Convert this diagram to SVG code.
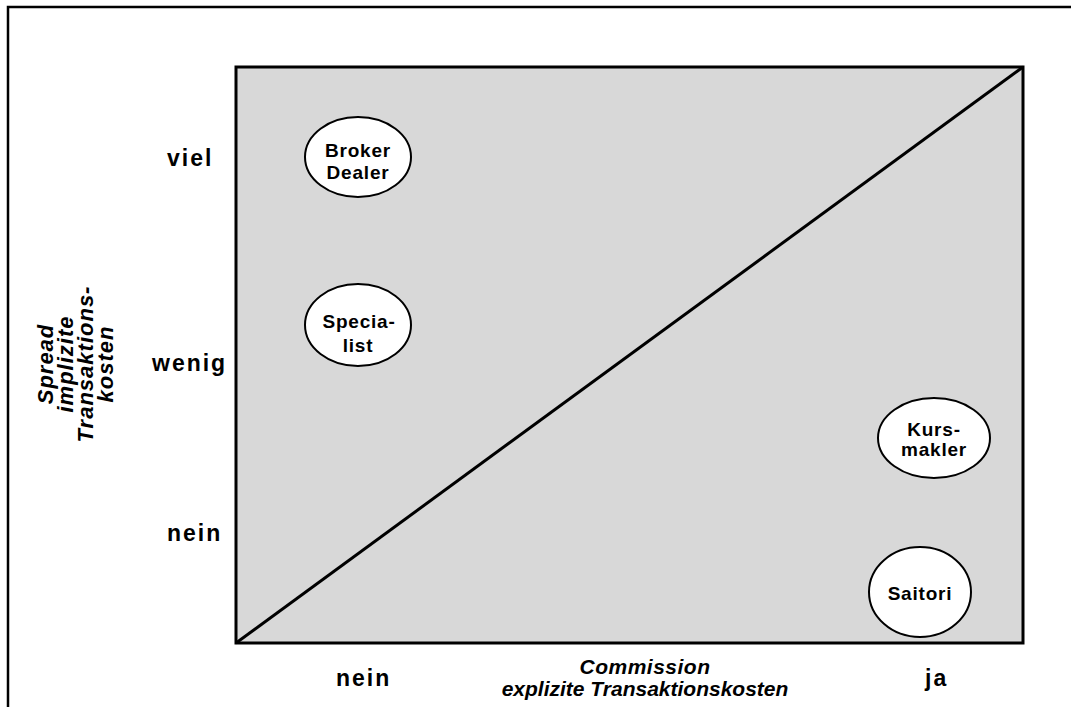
<svg xmlns="http://www.w3.org/2000/svg" width="1071" height="707" viewBox="0 0 1071 707">
<style>
.lbl{font-family:"Liberation Sans",Arial,sans-serif;font-weight:bold;font-size:23px;fill:#000;letter-spacing:2px}
.it{font-style:italic}
.node ellipse{fill:#fff;stroke:#000;stroke-width:2}
.nt{font-family:"Liberation Sans",Arial,sans-serif;font-weight:bold;font-size:19px;fill:#000;text-anchor:middle;letter-spacing:0.8px}
</style>
<rect width="1071" height="707" fill="#fff"/>
<rect x="8" y="7" width="1075" height="715" fill="none" stroke="#000" stroke-width="2.5"/>
<g id="chart">
<rect x="236" y="67" width="787" height="576" fill="#d8d8d8" stroke="#000" stroke-width="3"/>
</g>
<g id="connectors">
<line x1="236" y1="643" x2="1023" y2="67" stroke="#000" stroke-width="3"/>
</g>
<g id="broker" class="node">
<ellipse cx="358" cy="157" rx="53" ry="40"/>
<text class="nt" x="358" y="157">Broker</text>
<text class="nt" x="358" y="179">Dealer</text>
</g>
<g id="specialist" class="node">
<ellipse cx="358" cy="325" rx="53" ry="41"/>
<text class="nt" x="359" y="328">Specia-</text>
<text class="nt" x="358" y="352">list</text>
</g>
<g id="kursmakler" class="node">
<ellipse cx="934" cy="438" rx="56" ry="40"/>
<text class="nt" x="934" y="436">Kurs-</text>
<text class="nt" x="934" y="456">makler</text>
</g>
<g id="saitori" class="node">
<ellipse cx="920" cy="592" rx="51" ry="45"/>
<text class="nt" x="920" y="600">Saitori</text>
</g>
<g id="axis-labels">
<text class="lbl" x="167" y="166">viel</text>
<text class="lbl" x="152" y="371">wenig</text>
<text class="lbl" x="167" y="541">nein</text>
<text class="lbl" x="336" y="686">nein</text>
<text class="lbl" x="925" y="686">ja</text>
<text class="lbl it" x="645" y="674" text-anchor="middle" style="font-size:21px;letter-spacing:0.5px">Commission</text>
<text class="lbl it" x="645" y="696" text-anchor="middle" style="font-size:21px;letter-spacing:0px">explizite Transaktionskosten</text>
<g transform="translate(0,364) rotate(-90)" class="lbl it" text-anchor="middle" style="font-size:22px;letter-spacing:1px">
<text x="0" y="53">Spread</text>
<text x="0" y="73">implizite</text>
<text x="0" y="93">Transaktions-</text>
<text x="0" y="113">kosten</text>
</g>
</g>
</svg>
